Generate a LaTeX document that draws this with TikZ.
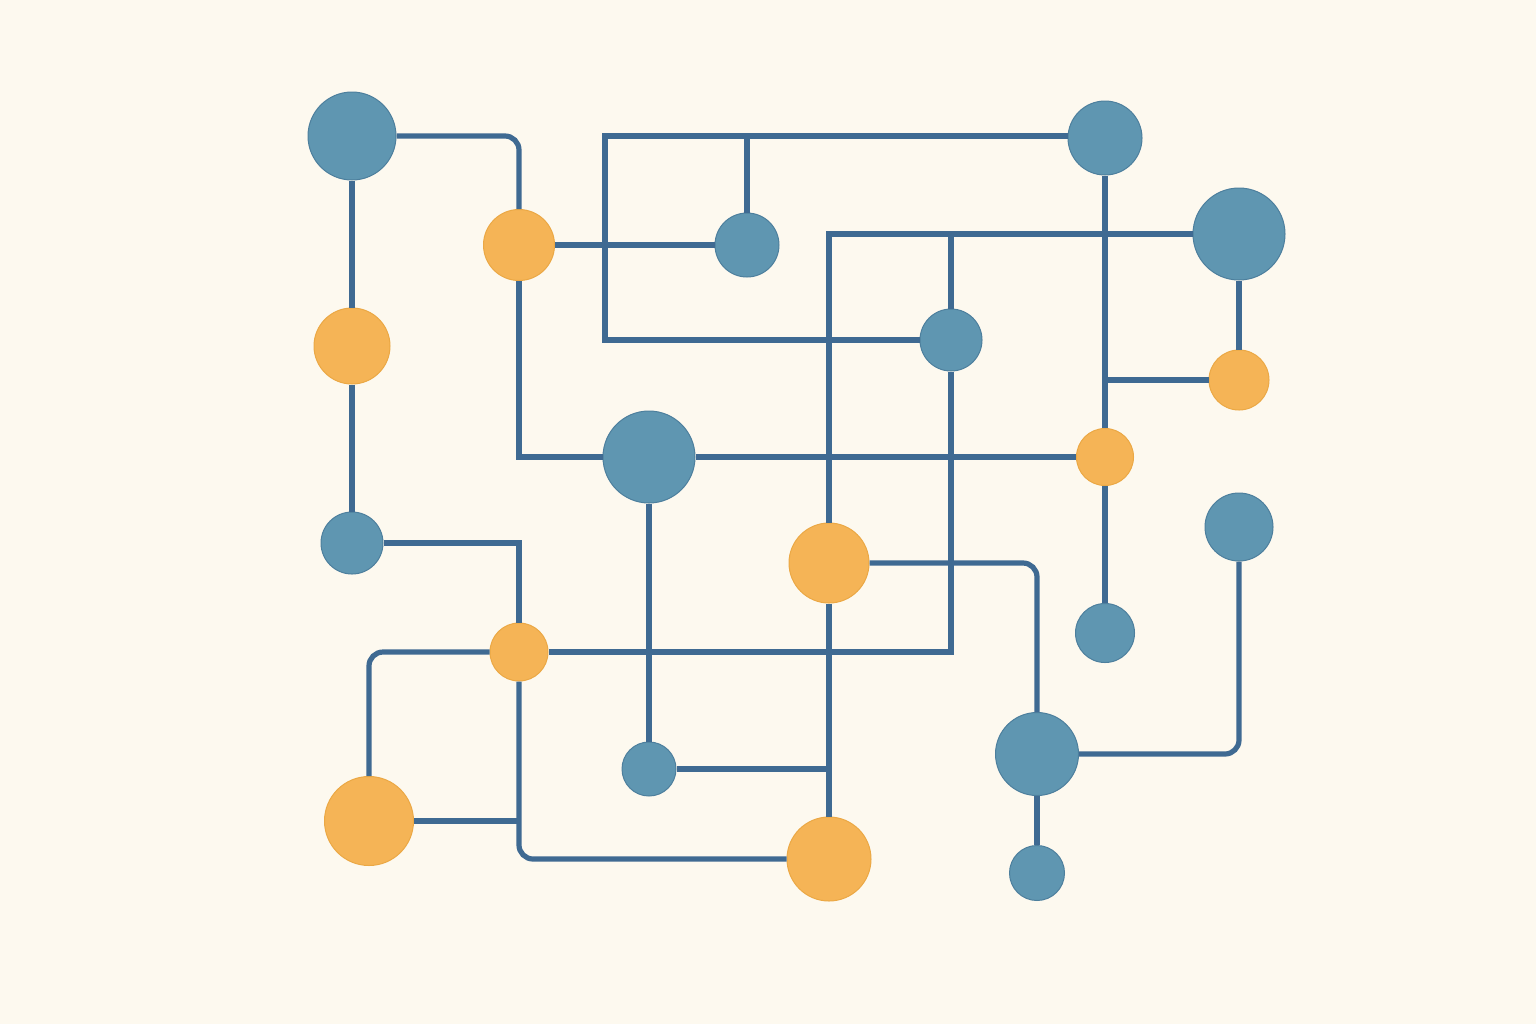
\documentclass[tikz,border=0pt]{standalone}
\usepackage{tikz}
\usetikzlibrary{positioning}

\definecolor{paper}{HTML}{FDF9EF}
\definecolor{wireblue}{HTML}{3F6A92}
\definecolor{dotblue}{HTML}{5F96B1}
\definecolor{dotblueedge}{HTML}{4D7F9D}
\definecolor{dotorange}{HTML}{F5B456}
\definecolor{dotorangeedge}{HTML}{EBA845}

\begin{document}
\begin{tikzpicture}[x=0.5pt, y=-0.5pt,
    wire/.style={line width=2.6pt, wireblue},
    roundwire/.style={wire, rounded corners=7pt},
    bluedot/.style={circle, inner sep=0pt, fill=dotblue, draw=dotblueedge, line width=0.5pt, minimum size=#1},
    orangedot/.style={circle, inner sep=0pt, fill=dotorange, draw=dotorangeedge, line width=0.5pt, minimum size=#1}]
    % Paper
    \fill[paper] (0,0) rectangle (1536,1024);

    % Blue nodes
    \node[bluedot=44pt] (b1) at (352,136) {};
    \node[bluedot=37pt] (b2) at (1105,138) {};
    \node[bluedot=32pt] (b3) at (747,245) {};
    \node[bluedot=46pt] (b4) at (1239,234) {};
    \node[bluedot=31pt] (b5) at (951,340) {};
    \node[bluedot=46pt] (b6) at (649,457) {};
    \node[bluedot=31pt] (b7) at (352,543) {};
    \node[bluedot=34pt] (b8) at (1239,527) {};
    \node[bluedot=29.5pt] (b9) at (1105,633) {};
    \node[bluedot=41.5pt] (b10) at (1037,754) {};
    \node[bluedot=27pt] (b11) at (649,769) {};
    \node[bluedot=27.5pt] (b12) at (1037,873) {};

    % Orange nodes
    \node[orangedot=35.5pt] (o1) at (519,245) {};
    \node[orangedot=38pt] (o2) at (352,346) {};
    \node[orangedot=30pt] (o3) at (1239,380) {};
    \node[orangedot=28.5pt] (o4) at (1105,457) {};
    \node[orangedot=40pt] (o5) at (829,563) {};
    \node[orangedot=29pt] (o6) at (519,652) {};
    \node[orangedot=44.5pt] (o7) at (369,821) {};
    \node[orangedot=42pt] (o8) at (829,859) {};

    % Frame corner
    \coordinate (topleft) at (605,136);

    % Wires, upper left
    \draw[roundwire] (b1) -| (o1);
    \draw[wire] (b1) -- (o2) -- (b7);
    \draw[wire] (o1) -- (b3);
    \draw[wire] (o1) |- (b6);
    \draw[wire] (b5) -| (topleft) -- (topleft -| b2.west);
    \draw[wire] (b3) -- (b3 |- topleft);

    % Wires, upper right
    \draw[wire] (b4) -| (o5);
    \draw[wire] (b5) -- (b5 |- b4);
    \draw[wire] (b5) |- (o6);
    \draw[wire] (b2) -- (o4) -- (b9);
    \draw[wire] (o3) -- (o3 -| b2);
    \draw[wire] (b4) -- (o3);
    \draw[wire] (b6) -- (o4);

    % Wires, lower half
    \draw[wire] (b6) -- (b11);
    \draw[wire] (b11) -- (b11 -| o5);
    \draw[wire] (o5) -- (o8);
    \draw[roundwire] (o5) -| (b10);
    \draw[wire] (b10) -- (b12);
    \draw[roundwire] (b10) -| (b8);
    \draw[wire] (b7) -| (o6);
    \draw[roundwire] (o6) -| (o7);
    \draw[roundwire] (o6) |- (o8);
    \draw[wire] (o7) -- (o7 -| o6);
\end{tikzpicture}
\end{document}
